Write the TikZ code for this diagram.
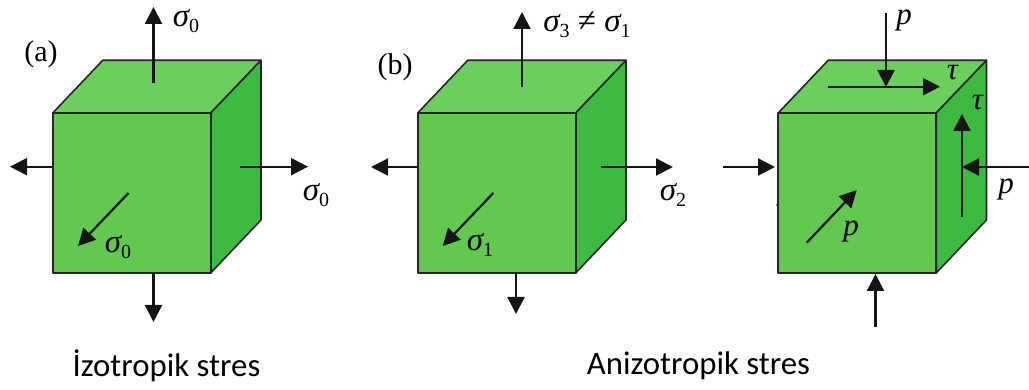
\documentclass[tikz,border=0pt]{standalone}
\usepackage{amsfonts,amssymb,amsmath}
\usepackage{fontspec}
\usepackage{xcolor}
\usepackage{tikz}
\usetikzlibrary{arrows.meta}
\setmainfont{Liberation Serif}
\newfontfamily\capfont{Carlito}
\definecolor{cubefront}{HTML}{62C850}
\definecolor{cubetop}{HTML}{6BCF5E}
\definecolor{cubeside}{HTML}{3CBB40}
\definecolor{arrowink}{HTML}{151515}
\newcommand{\sig}[1]{\textit{σ}\kern-1pt\raisebox{-6pt}{\fontsize{20}{20}\selectfont #1}}
\tikzset{
  stress/.style={draw=arrowink,line width=2.2pt,-{Stealth[length=17pt,width=17pt,inset=0pt]}},
  slabel/.style={inner sep=0pt,font=\fontsize{33}{33}\selectfont},
  plabel/.style={inner sep=0pt,font=\fontsize{31}{31}\selectfont},
  tag/.style={inner sep=0pt,font=\fontsize{30}{30}\selectfont},
  caption/.style={inner sep=0pt,font=\capfont\fontsize{32.8}{32.8}\selectfont},
}
\begin{document}
\begin{tikzpicture}[x=1pt,y=-1pt]
\useasboundingbox(0,0)rectangle(1029,390);
\foreach \cubex in {0,365,725.5}{
\filldraw[fill=cubetop,draw=black!85,line width=1.6pt,line join=round](52.7+\cubex,113)--(102.7+\cubex,60.3)--(261+\cubex,60.3)--(210.7+\cubex,113)--cycle;
\filldraw[fill=cubeside,draw=black!85,line width=1.6pt,line join=round](210.7+\cubex,113)--(261+\cubex,60.3)--(261+\cubex,220)--(210.7+\cubex,273)--cycle;
\filldraw[fill=cubefront,draw=black!85,line width=1.6pt,line join=round](52.7+\cubex,113)rectangle(210.7+\cubex,273);
}
\draw[stress](153.5,83)--(153.5,7);
\draw[stress](52,166.7)--(10,166.7);
\draw[stress](240,166.7)--(308,166.7);
\draw[stress](128.5,193)--(78,246);
\draw[stress](153.5,273)--(153.5,322);
\draw[stress](522,87)--(522,12);
\draw[stress](417,167)--(371,167);
\draw[stress](600.7,167)--(673,167);
\draw[stress](493.3,193)--(442.7,246);
\draw[stress](516,273)--(516,314);
\draw[stress](886,13)--(886,87);
\draw[stress](828,86.7)--(940,86.7);
\draw[stress](962,216.7)--(962,114);
\draw[stress](1029,167)--(962,167);
\draw[stress](723,167)--(775,167);
\draw[stress](806.7,242.7)--(856.7,190);
\draw[stress](875.5,326.7)--(875.5,274);
\fill[arrowink](777,205)circle(0.9);
\node[tag](taga)at(41,54){(a)};
\node[tag](tagb)at(395,67){(b)};
\node[slabel](sa1)at(186,21){\sig{0}};
\node[slabel](sa2)at(316,195){\sig{0}};
\node[slabel](sa3)at(118,247){\sig{0}};
\node[slabel](sb1)at(587,25){\sig{3} ≠ \sig{1}};
\node[slabel](sb2)at(673,195){\sig{2}};
\node[slabel](sb3)at(480,245){\sig{1}};
\node[plabel](pc1)at(904,20){\textit{p}};
\node[plabel](pc2)at(1006,189){\textit{p}};
\node[plabel](pc3)at(851,231){\textit{p}};
\node[plabel](tc1)at(953,73){\textit{τ}};
\node[plabel](tc2)at(978,103){\textit{τ}};
\node[caption](capa)at(166.5,366){İzotropik stres};
\node[caption](capb)at(698.5,366){Anizotropik stres};
\end{tikzpicture}
\end{document}
